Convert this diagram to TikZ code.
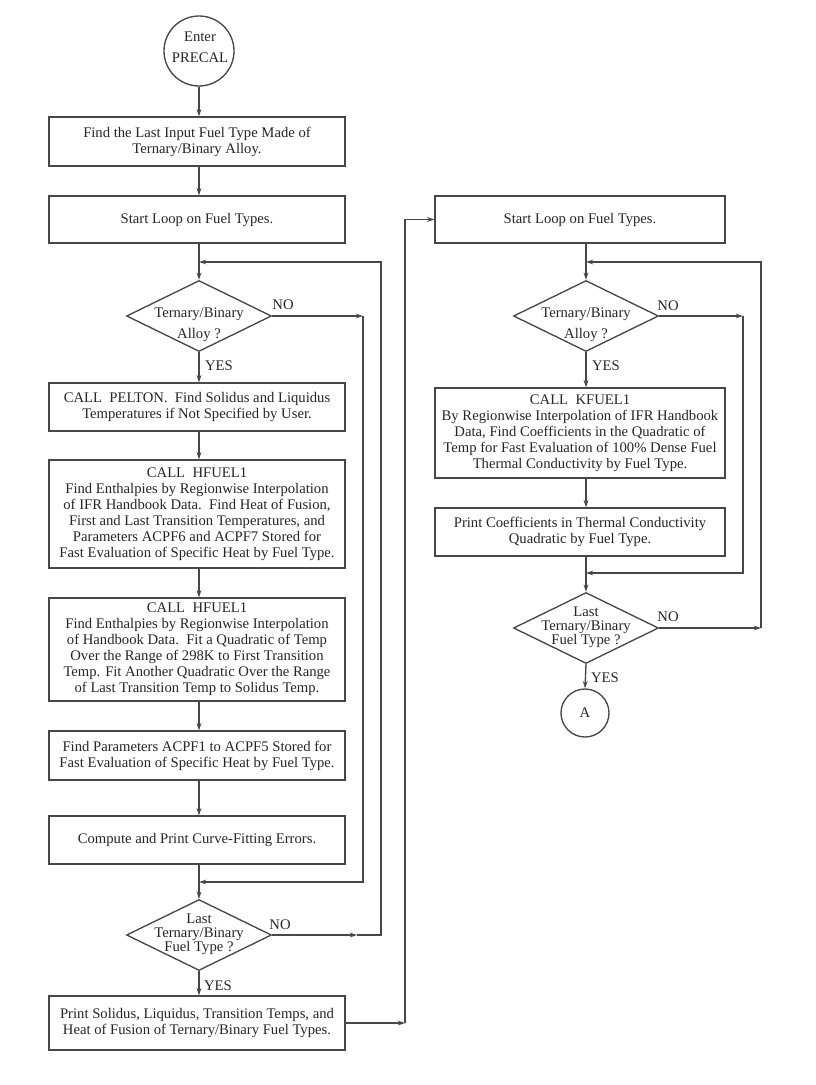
\documentclass[tikz,border=0pt]{standalone}
\usepackage{fontspec}
\setmainfont{Liberation Serif}
\usetikzlibrary{shapes.geometric,arrows.meta}
\begin{document}
\begin{tikzpicture}[x=0.75pt,y=-0.75pt,
  ln/.style={draw=black!72, line width=1pt},
  arr/.style={ln, -{Stealth[length=5.5pt,width=3.6pt]}},
  txt/.style={font=\fontsize{11}{12}\selectfont, text=black!85, align=center, inner sep=0pt},
  lbox/.style={ln, txt, rectangle, minimum width={296*0.75pt}, minimum height={#1*0.75pt}},
  rbox/.style={ln, txt, rectangle, minimum width={290*0.75pt}, minimum height={#1*0.75pt}},
  dia/.style={ln, diamond, inner sep=0pt, minimum width={145*0.75pt}, minimum height={71*0.75pt}},
  circ/.style={ln, circle, inner sep=0pt, minimum size={#1*0.75pt}},
  lab/.style={font=\fontsize{11}{12}\selectfont, text=black!85, inner sep=0pt}
]
\fill[white] (0,0) rectangle (816,1085);
\useasboundingbox (0,0) rectangle (816,1085);

% ---------- left column ----------
\node[circ=70] (enter) at (199,51) {};
\node[txt, font=\fontsize{11}{15.5}\selectfont] (entert) at (200,47) {Enter\\PRECAL};
\node[lbox=49] (b1) at (197,141.5) {Find the Last Input Fuel Type Made of\\Ternary/Binary Alloy.};
\node[lbox=47] (b2) at (197,219.5) {Start Loop on Fuel Types.};
\node[dia] (d1) at (199,316) {};
\node[txt, font=\fontsize{11}{15.5}\selectfont] (d1t) at (199,325) {Ternary/Binary\\Alloy ?};
\node[lbox=48] (b3) at (197,407) {CALL\ \ PELTON.\ \ Find Solidus and Liquidus\\Temperatures if Not Specified by User.};
\node[lbox=108] (b4) at (197,514) {CALL\ \ HFUEL1\\Find Enthalpies by Regionwise Interpolation\\of IFR Handbook Data.\ \ Find Heat of Fusion,\\First and Last Transition Temperatures, and\\Parameters ACPF6 and ACPF7 Stored for\\Fast Evaluation of Specific Heat by Fuel Type.};
\node[lbox=103] (b5) at (197,649.5) {CALL\ \ HFUEL1\\Find Enthalpies by Regionwise Interpolation\\of Handbook Data.\ \ Fit a Quadratic of Temp\\Over the Range of 298K to First Transition\\Temp. Fit Another Quadratic Over the Range\\of Last Transition Temp to Solidus Temp.};
\node[lbox=49] (b6) at (197,755.5) {Find Parameters ACPF1 to ACPF5 Stored for\\Fast Evaluation of Specific Heat by Fuel Type.};
\node[lbox=48] (b7) at (197,840) {Compute and Print Curve-Fitting Errors.};
\node[dia] (d2) at (199,935) {};
\node[txt, font=\fontsize{11}{10.5}\selectfont] (d2t) at (199,934) {Last\\Ternary/Binary\\Fuel Type ?};
\node[lbox=54] (b8) at (197,1023) {Print Solidus, Liquidus, Transition Temps, and\\Heat of Fusion of Ternary/Binary Fuel Types.};

% ---------- right column ----------
\node[rbox=47] (r1) at (580,219.5) {Start Loop on Fuel Types.};
\node[dia] (rd1) at (586,316) {};
\node[txt, font=\fontsize{11}{15.5}\selectfont] (rd1t) at (586,325) {Ternary/Binary\\Alloy ?};
\node[rbox=90] (r2) at (580,433) {CALL\ \ KFUEL1\\By Regionwise Interpolation of IFR Handbook\\Data, Find Coefficients in the Quadratic of\\Temp for Fast Evaluation of 100\% Dense Fuel\\Thermal Conductivity by Fuel Type.};
\node[rbox=48] (r3) at (580,532) {Print Coefficients in Thermal Conductivity\\Quadratic by Fuel Type.};
\node[dia] (rd2) at (586,628) {};
\node[txt, font=\fontsize{11}{10.5}\selectfont] (rd2t) at (586,627) {Last\\Ternary/Binary\\Fuel Type ?};
\node[circ=48, txt] (A) at (585,713) {A};

% ---------- labels ----------
\node[lab] (no1) at (283,305) {NO};
\node[lab] (yes1) at (219,366) {YES};
\node[lab] (no2) at (280,925) {NO};
\node[lab] (yes2) at (218,986) {YES};
\node[lab] (no3) at (668,306) {NO};
\node[lab] (yes3) at (606,366) {YES};
\node[lab] (no4) at (668,617) {NO};
\node[lab] (yes4) at (605,678) {YES};

% ---------- coordinates ----------
\coordinate (xl) at (199,0);
\coordinate (xr) at (586,0);
\coordinate (loopJoinL) at (199,262);
\coordinate (loopTopL) at (381,262);
\coordinate (loopBotL) at (381,935);
\coordinate (no2tip) at (357,935);
\coordinate (skipTopL) at (363,316);
\coordinate (skipBotL) at (363,882);
\coordinate (skipJoinL) at (199,882);
\coordinate (crossB) at (405,1023);
\coordinate (loopJoinR) at (586,262);
\coordinate (loopTopR) at (761,262);
\coordinate (loopBotR) at (761,628);
\coordinate (skipTopR) at (743,316);
\coordinate (skipBotR) at (743,573);
\coordinate (skipJoinR) at (586,573);

% ---------- left connectors ----------
\draw[arr] (enter.south) -- (enter.south |- b1.north);
\draw[arr] (b1.south -| xl) -- (b2.north -| xl);
\draw[arr] (b2.south -| xl) -- (d1.north);
\draw[arr] (d1.south) -- (b3.north -| xl);
\draw[arr] (b3.south -| xl) -- (b4.north -| xl);
\draw[arr] (b4.south -| xl) -- (b5.north -| xl);
\draw[arr] (b5.south -| xl) -- (b6.north -| xl);
\draw[arr] (b6.south -| xl) -- (b7.north -| xl);
\draw[arr] (b7.south -| xl) -- (d2.north);
\draw[arr] (d2.south) -- (b8.north -| xl);
\draw[arr] (d1.east) -- (skipTopL);
\draw[arr] (skipTopL) -- (skipBotL) -- (skipJoinL);
\draw[arr] (d2.east) -- (no2tip);
\draw[arr] (no2tip) -- (loopBotL) -- (loopTopL) -- (loopJoinL);
\draw[arr] (b8.east) -- (crossB);
\draw[arr] (crossB) |- (r1.west);

% ---------- right connectors ----------
\draw[arr] (r1.south -| xr) -- (rd1.north);
\draw[arr] (rd1.south) -- (r2.north -| xr);
\draw[arr] (r2.south -| xr) -- (r3.north -| xr);
\draw[arr] (r3.south -| xr) -- (rd2.north);
\draw[arr] (rd2.south) -- (A.north);
\draw[arr] (rd1.east) -- (skipTopR);
\draw[arr] (skipTopR) -- (skipBotR) -- (skipJoinR);
\draw[arr] (rd2.east) -- (loopBotR);
\draw[arr] (loopBotR) -- (loopTopR) -- (loopJoinR);
\end{tikzpicture}
\end{document}
